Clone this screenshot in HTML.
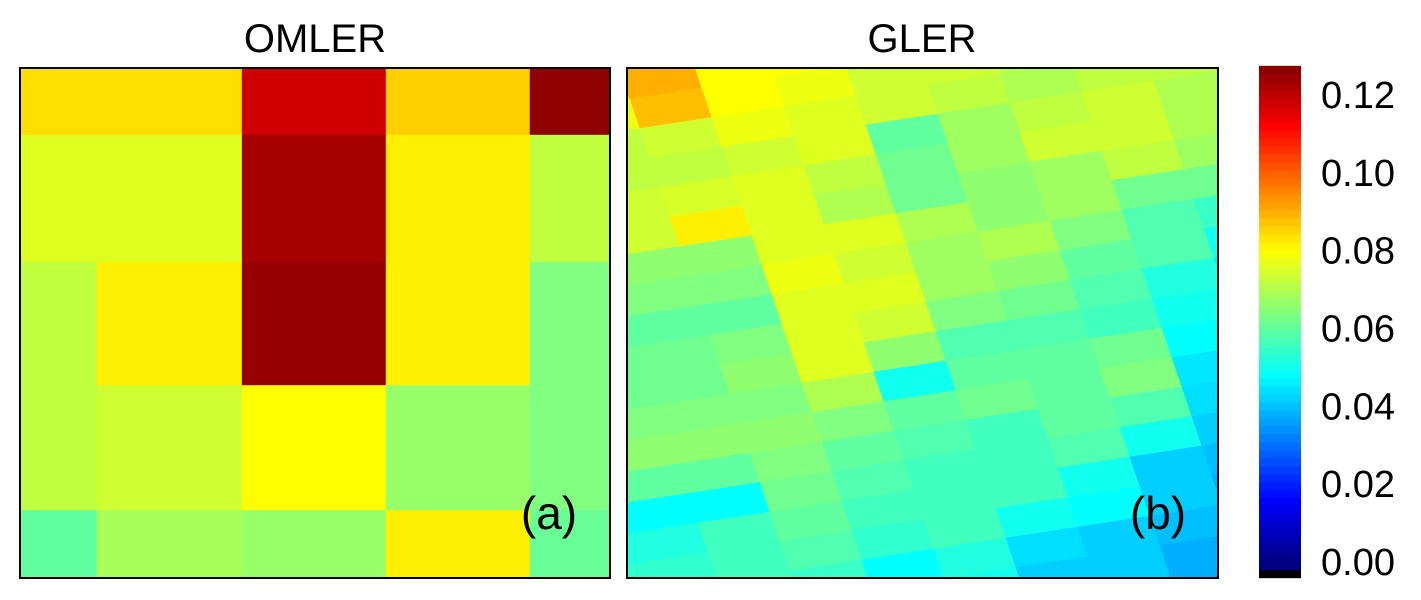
<!DOCTYPE html>
<html><head><meta charset="utf-8"><style>
html,body{margin:0;padding:0;background:#fff;overflow:hidden;width:1421px;height:600px;}
svg{display:block;font-family:"Liberation Sans",Arial,sans-serif;}
</style></head><body>
<svg id="chart" width="1421" height="600" viewBox="0 0 1421 600" xmlns="http://www.w3.org/2000/svg">
<defs>
<clipPath id="clipA"><rect x="20" y="68" width="590" height="510"/></clipPath>
<clipPath id="clipB"><rect x="627" y="68" width="591" height="510"/></clipPath>
</defs>
<g id="panelA" clip-path="url(#clipA)"></g>
<g id="panelB" clip-path="url(#clipB)"></g>
<g id="cbar"></g>
<rect x="20" y="68" width="590" height="510" fill="none" stroke="#000" stroke-width="2"/>
<rect x="627" y="68" width="591" height="510" fill="none" stroke="#000" stroke-width="2"/>
<text x="315" y="52" font-size="40" text-anchor="middle">OMLER</text>
<text x="922" y="52" font-size="40" text-anchor="middle">GLER</text>
<text x="549" y="529" font-size="46" text-anchor="middle">(a)</text>
<text x="1158" y="529" font-size="46" text-anchor="middle">(b)</text>
</svg>
<script>
const VMAX = 0.128;
// Panel A: column / row edges (fractions of panel) and cell values
const aColEdges = [0, 0.13, 0.376, 0.62, 0.864, 1];
const aRowEdges = [0, 0.131, 0.38, 0.622, 0.867, 1];
const aValues = [
  [0.084,0.084,0.118,0.086,0.126],
  [0.076,0.076,0.123,0.082,0.072],
  [0.072,0.082,0.125,0.082,0.064],
  [0.072,0.074,0.080,0.067,0.064],
  [0.060,0.069,0.067,0.082,0.061]
];
// Panel B: rotated grid values (x0.001), rows j, cols i=-3..9
const bValues = [
[80,85,90,92,82,82,76,75,74,72,72,72,72],
[78,80,85,90,80,80,76,74,72,70,70,70,70],
[74,75,78,88,80,78,74,74,72,70,70,70,70],
[72,72,72,74,78,76,74,72,70,72,72,72,72],
[72,72,72,72,74,76,60,68,72,74,70,70,70],
[74,74,74,75,76,72,62,68,74,74,70,70,70],
[72,72,74,82,76,70,62,66,68,72,68,66,66],
[66,66,66,66,76,76,70,66,68,62,62,62,62],
[62,62,64,64,78,74,68,70,64,58,55,55,55],
[60,60,60,60,76,76,68,66,60,58,50,50,50],
[62,62,62,64,76,74,64,62,58,52,46,46,46],
[62,62,62,66,76,66,58,58,56,50,44,44,44],
[64,64,64,64,70,50,60,60,62,48,44,44,44],
[66,66,66,66,64,60,62,60,64,45,40,40,40],
[60,60,60,64,60,58,56,60,58,44,40,40,40],
[48,48,48,62,58,56,56,58,50,42,40,40,40],
[52,52,56,60,56,56,56,50,42,40,40,40,40],
[54,54,56,58,54,56,50,48,42,38,36,36,36],
[54,54,56,55,48,52,44,42,40,36,35,35,35],
[54,54,56,55,48,50,42,42,38,34,34,34,34],
[54,54,56,55,48,50,42,42,38,38,36,34,34]
];
const cbTicks = [0.00,0.02,0.04,0.06,0.08,0.10,0.12];
const cbTickLabels = ["0.00","0.02","0.04","0.06","0.08","0.10","0.12"];

const NS='http://www.w3.org/2000/svg';
function clamp(v){return Math.max(0,Math.min(1,v));}
function jet(v){
  const t=clamp(v/VMAX);
  const r=clamp(1.5-Math.abs(4*t-3)), g=clamp(1.5-Math.abs(4*t-2)), b=clamp(1.5-Math.abs(4*t-1));
  return 'rgb('+Math.round(r*255)+','+Math.round(g*255)+','+Math.round(b*255)+')';
}
const AX0=20,AX1=610,AY0=68,AY1=578;
const axA=f=>AX0+f*(AX1-AX0), ayA=f=>AY0+f*(AY1-AY0);
const gA=document.getElementById('panelA');
aValues.forEach((row,r)=>row.forEach((v,c)=>{
  const el=document.createElementNS(NS,'rect');
  el.setAttribute('x',axA(aColEdges[c]));el.setAttribute('y',ayA(aRowEdges[r]));
  el.setAttribute('width',axA(aColEdges[c+1])-axA(aColEdges[c])+0.5);
  el.setAttribute('height',ayA(aRowEdges[r+1])-ayA(aRowEdges[r])+0.5);
  el.setAttribute('fill',jet(v));
  
  
  gA.appendChild(el);
}));
const O=[610,40],U=[72,-11],V=[10,29.5],I0=-3;
const pt=(i,j)=>[O[0]+i*U[0]+j*V[0],O[1]+i*U[1]+j*V[1]];
const gB=document.getElementById('panelB');
bValues.forEach((row,j)=>row.forEach((v,k)=>{
  const i=k+I0;
  const p=[pt(i,j),pt(i+1,j),pt(i+1,j+1),pt(i,j+1)];
  const el=document.createElementNS(NS,'polygon');
  el.setAttribute('points',p.map(q=>q[0].toFixed(1)+','+q[1].toFixed(1)).join(' '));
  el.setAttribute('fill',jet(v/1000));
  el.setAttribute('stroke',jet(v/1000));
  el.setAttribute('stroke-width','0.6');
  
  
  gB.appendChild(el);
}));
const CY0=562,CY1=95;
const cy=v=>CY0+(CY1-CY0)*v/0.12;
const gC=document.getElementById('cbar');
const N=64;
for(let k=0;k<N;k++){
  const v0=-0.004+k*(0.1275+0.004)/N, v1=v0+(0.1315)/N;
  const el=document.createElementNS(NS,'rect');
  el.setAttribute('x',1259);el.setAttribute('width',42);
  el.setAttribute('y',cy(v1));el.setAttribute('height',cy(v0)-cy(v1)+0.6);
  el.setAttribute('fill',v0<-0.002?'#000':jet((v0+v1)/2));
  
  
  gC.appendChild(el);
}
cbTicks.forEach((t,k)=>{
  const el=document.createElementNS(NS,'text');
  el.setAttribute('x',1321);el.setAttribute('y',cy(t)+13);
  el.setAttribute('font-size','38');
  el.textContent=cbTickLabels[k];
  
  
  gC.appendChild(el);
});
</script>
</body></html>
